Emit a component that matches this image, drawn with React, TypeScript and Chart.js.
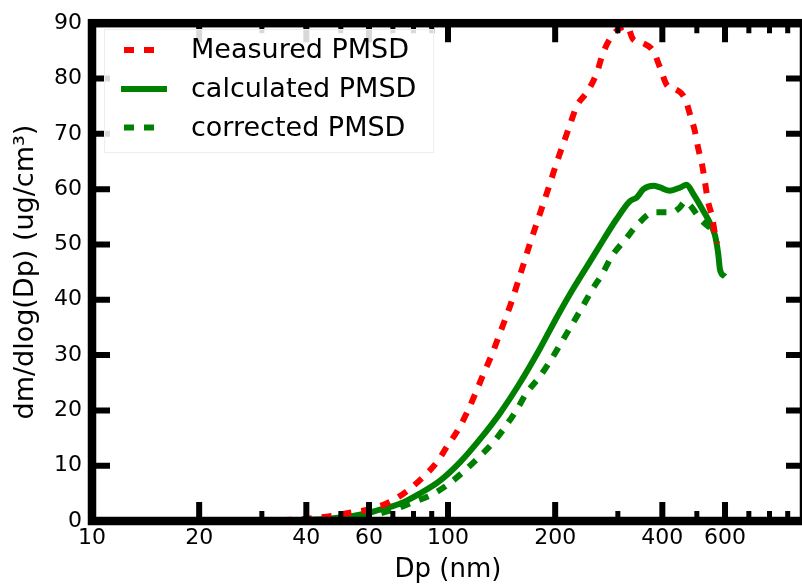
import { useEffect, useRef } from "react";
import { Chart, registerables } from "chart.js";

Chart.register(...registerables);

// ---- data ----
const seriesLabels = ["Measured PMSD", "calculated PMSD", "corrected PMSD"];

const measuredDp = [30, 35, 40, 47, 53, 60, 69, 77, 85, 93, 99, 107, 114, 120, 126, 133, 140, 150, 160, 170, 180, 190, 202, 211, 220, 230, 248, 262, 273, 291, 318, 331, 353, 377, 394, 412, 440, 463, 479, 494, 504, 517, 527, 537, 552, 562, 570];
const measuredMass = [0.1, 0.2, 0.4, 0.9, 1.5, 2.1, 3.5, 5.5, 7.9, 10.6, 13.3, 16.6, 20.1, 23.4, 26.7, 30.2, 34.0, 39.2, 44.8, 50.2, 55.0, 59.5, 64.8, 68.3, 71.6, 75.0, 77.9, 81.1, 84.7, 88.0, 89.5, 87.1, 86.4, 85.0, 82.0, 78.8, 77.9, 76.4, 73.4, 70.4, 67.5, 64.5, 61.3, 57.9, 55.0, 52.0, 50.2];

const calculatedDp = [30, 35, 40, 45, 50, 55, 60, 64, 70, 75, 83, 95, 108, 123, 140, 159, 181, 202, 220, 250, 273, 297, 324, 339, 354, 378, 394, 420, 449, 468, 489, 521, 545, 562, 574, 581, 600];
const calculatedMass = [0.05, 0.1, 0.2, 0.35, 0.65, 1.0, 1.5, 2.0, 2.7, 3.4, 4.9, 7.3, 10.6, 14.8, 19.5, 24.9, 31.1, 36.8, 41.0, 46.8, 50.8, 54.5, 57.8, 58.5, 60.0, 60.6, 60.3, 59.7, 60.3, 60.8, 59.1, 56.1, 53.8, 51.7, 48.4, 45.4, 44.2];

const correctedDp = [30, 40, 50, 60, 70, 79, 89, 99, 110, 122, 134, 145, 156, 166, 181, 194, 207, 222, 238, 254, 272, 288, 314, 343, 378, 425, 445, 465, 480, 511, 545];
const correctedMass = [0.03, 0.15, 0.45, 1.0, 2.0, 3.3, 4.6, 6.4, 8.8, 11.5, 14.2, 17.1, 20.1, 23.1, 26.1, 29.0, 32.0, 35.3, 38.6, 41.8, 44.8, 47.8, 50.8, 53.8, 55.8, 55.8, 56.5, 57.8, 57.0, 54.6, 53.0];

const xMajorTicks = [10, 20, 40, 60, 100, 200, 400, 600];
const xMinorTicks = [30, 50, 70, 80, 90, 300, 500, 700, 800, 900];
const yTicks = [0, 10, 20, 30, 40, 50, 60, 70, 80, 90];

const xTitle = "Dp (nm)";
const yTitle = "dm/dlog(Dp) (ug/cm³)";

const FONT = "'DejaVu Sans', sans-serif";

const zip = (xs: number[], ys: number[]) => xs.map((x, i) => ({ x, y: ys[i] }));

const framePlugin = {
  id: "mplFrame",
  afterDraw(chart: any) {
    const { ctx, chartArea: a, scales } = chart;
    const xs = scales.x;
    const ys = scales.y;
    ctx.save();
    ctx.strokeStyle = "#000";
    ctx.lineCap = "butt";
    const xTick = (v: number, len: number, w: number) => {
      const px = xs.getPixelForValue(v);
      ctx.lineWidth = w;
      ctx.beginPath();
      ctx.moveTo(px, a.bottom);
      ctx.lineTo(px, a.bottom - len);
      ctx.moveTo(px, a.top);
      ctx.lineTo(px, a.top + len);
      ctx.stroke();
    };
    const yTick = (v: number, len: number, w: number) => {
      const py = ys.getPixelForValue(v);
      ctx.lineWidth = w;
      ctx.beginPath();
      ctx.moveTo(a.left, py);
      ctx.lineTo(a.left + len, py);
      ctx.moveTo(a.right, py);
      ctx.lineTo(a.right - len, py);
      ctx.stroke();
    };
    xMajorTicks.forEach((v) => xTick(v, 19, 6));
    xMinorTicks.forEach((v) => xTick(v, 10, 5));
    yTicks.forEach((v) => yTick(v, 18, 6));
    ctx.lineWidth = 8.5;
    ctx.lineJoin = "miter";
    ctx.strokeRect(a.left, a.top, a.right - a.left, a.bottom - a.top);

    // legend
    const bx = 104, by = 29, bw = 329, bh = 123;
    ctx.fillStyle = "rgba(255,255,255,0.85)";
    ctx.fillRect(bx, by, bw, bh);
    ctx.strokeStyle = "#eeeeee";
    ctx.lineWidth = 1;
    ctx.strokeRect(bx + 0.5, by + 0.5, bw, bh);
    const rows = [50, 89, 127.5];
    chart.data.datasets.forEach((ds: any, i: number) => {
      const y = rows[i];
      ctx.strokeStyle = ds.borderColor;
      ctx.lineWidth = ds.borderWidth;
      ctx.setLineDash(ds.borderDash || []);
      ctx.beginPath();
      if (ds.borderDash && ds.borderDash.length) {
        ctx.moveTo(124, y);
        ctx.lineTo(155, y);
      } else {
        ctx.moveTo(121, y);
        ctx.lineTo(167, y);
      }
      ctx.stroke();
      ctx.setLineDash([]);
      ctx.fillStyle = "#000";
      ctx.font = `27px ${FONT}`;
      ctx.textBaseline = "middle";
      ctx.textAlign = "left";
      ctx.fillText(ds.label, 191, y + 1);
    });
    ctx.restore();
  },
};

export default function App() {
  const ref = useRef<HTMLCanvasElement | null>(null);
  useEffect(() => {
    document.body.style.margin = "0";
    const canvas = ref.current!;
    const common = {
      borderWidth: 6,
      pointRadius: 0,
      cubicInterpolationMode: "monotone",
      fill: false,
    };
    const chart = new Chart(canvas, {
      type: "line",
      data: {
        datasets: [
          {
            ...common,
            label: seriesLabels[0],
            data: zip(measuredDp, measuredMass),
            borderColor: "#ff0000",
            borderDash: [10, 10],
          },
          {
            ...common,
            label: seriesLabels[1],
            data: zip(calculatedDp, calculatedMass),
            borderColor: "#008000",
          },
          {
            ...common,
            label: seriesLabels[2],
            data: zip(correctedDp, correctedMass),
            borderColor: "#008000",
            borderDash: [10, 10],
          },
        ],
      },
      options: {
        animation: false,
        responsive: false,
        devicePixelRatio: 1,
        layout: { padding: { left: 8, right: 8, top: 17, bottom: 0 } },
        plugins: { legend: { display: false }, tooltip: { enabled: false } },
        scales: {
          x: {
            type: "logarithmic",
            min: 10,
            max: 1000,
            grid: { display: false, drawTicks: false },
            border: { display: false },
            afterBuildTicks: (scale: any) => {
              scale.ticks = xMajorTicks.map((v) => ({ value: v }));
            },
            afterFit: (scale: any) => {
              scale.height = 65;
            },
            ticks: {
              autoSkip: false,
              maxRotation: 0,
              padding: 4,
              color: "#000",
              font: { family: FONT, size: 22 },
              callback: (v: any) => String(v),
            },
            title: {
              display: true,
              text: xTitle,
              color: "#000",
              font: { family: FONT, size: 26 },
              padding: { top: 0, bottom: 0 },
            },
          },
          y: {
            min: 0,
            max: 90,
            grid: { display: false, drawTicks: false },
            border: { display: false },
            afterBuildTicks: (scale: any) => {
              scale.ticks = yTicks.map((v) => ({ value: v }));
            },
            afterFit: (scale: any) => {
              scale.width = 84;
            },
            ticks: {
              padding: 10,
              color: "#000",
              font: { family: FONT, size: 22 },
            },
            title: {
              display: true,
              text: yTitle,
              color: "#000",
              font: { family: FONT, size: 27 },
              padding: { top: 2, bottom: 0 },
            },
          },
        },
      },
      plugins: [framePlugin],
    } as any);
    return () => chart.destroy();
  }, []);
  return (
    <div
      style={{
        position: "fixed",
        left: 0,
        top: 0,
        width: 802,
        height: 586,
        overflow: "hidden",
        background: "#fff",
      }}
    >
      <canvas ref={ref} width={812} height={586} style={{ width: 812, height: 586, display: "block" }} />
    </div>
  );
}
